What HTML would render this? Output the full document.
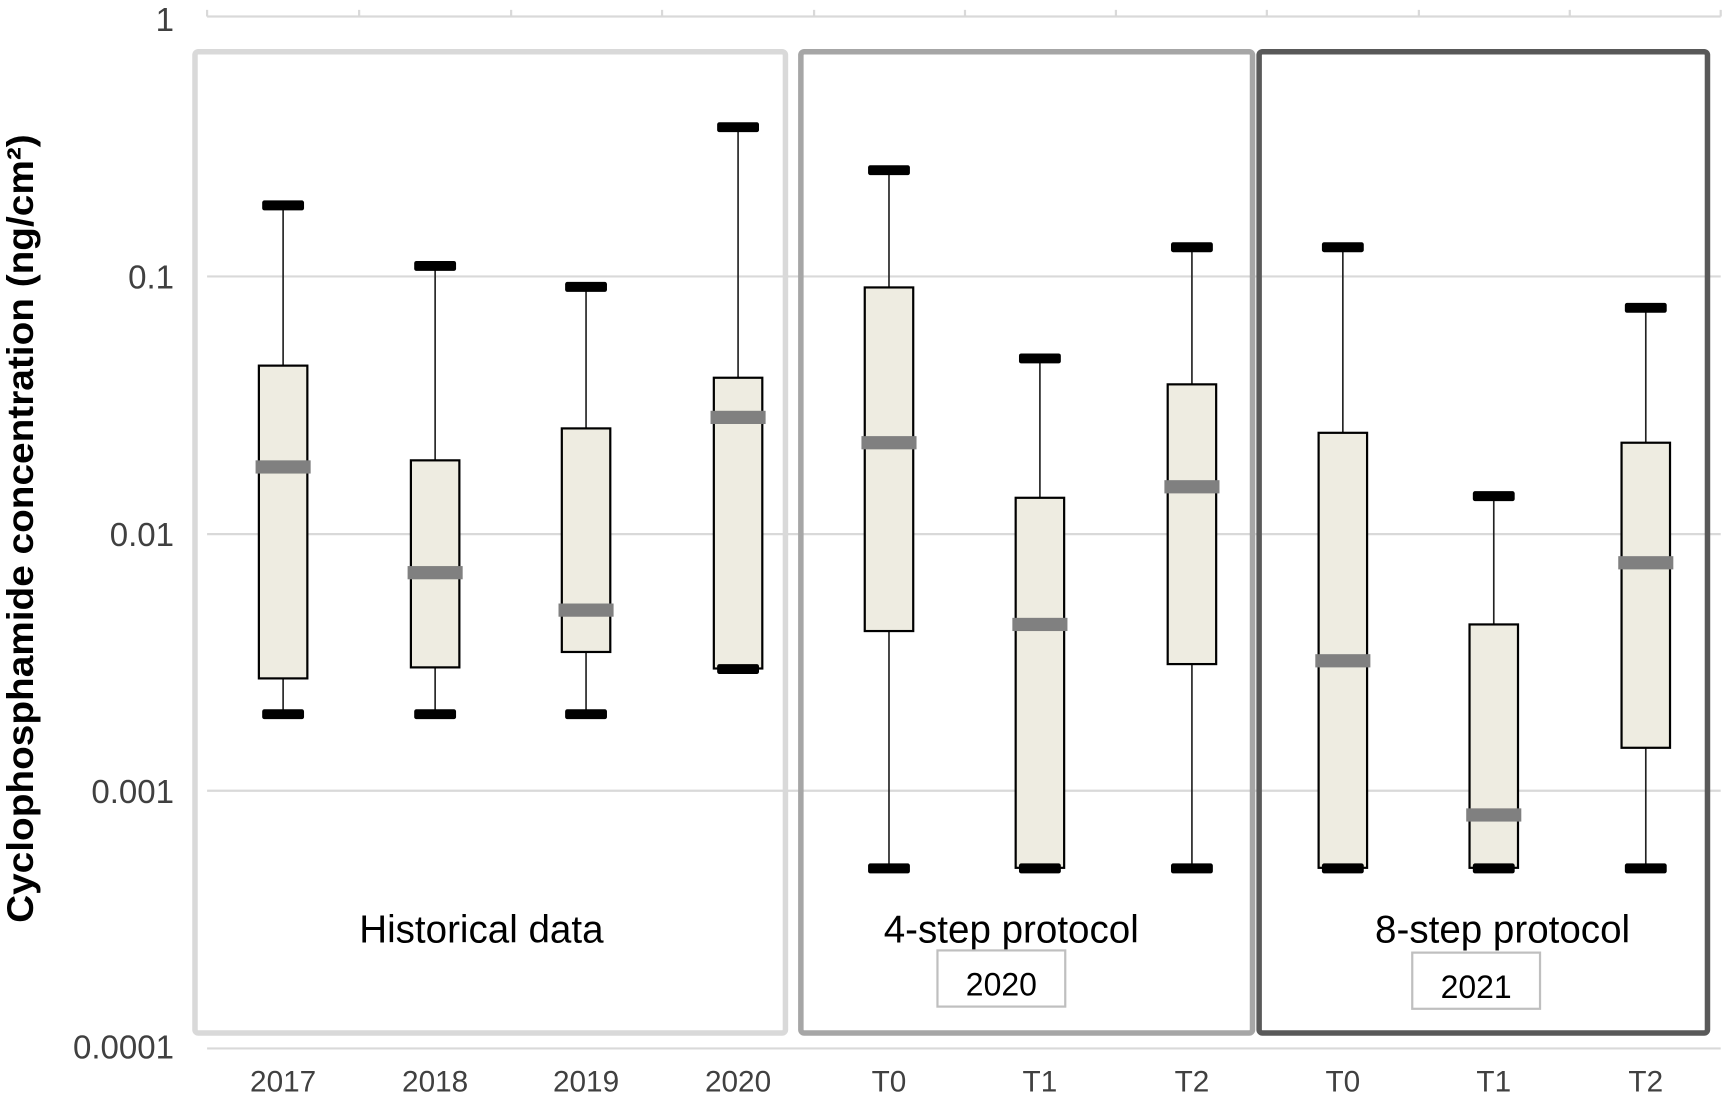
<!DOCTYPE html>
<html><head><meta charset="utf-8"><style>html,body{margin:0;padding:0;background:#fff}svg{display:block}</style></head>
<body>
<svg width="1724" height="1098" viewBox="0 0 1565 997" preserveAspectRatio="none" xmlns="http://www.w3.org/2000/svg" font-family="Liberation Sans, sans-serif">
<g stroke="#d9d9d9" stroke-width="2">
<line x1="188" y1="251" x2="1562" y2="251"/>
<line x1="188" y1="485" x2="1562" y2="485"/>
<line x1="188" y1="718" x2="1562" y2="718"/>
<line x1="188" y1="952" x2="1562" y2="952"/>
<line x1="188" y1="15" x2="1562" y2="15"/>
<path d="M188 9V15M326 9V15M464 9V15M601 9V15M739 9V15M876 9V15M1013 9V15M1150 9V15M1288 9V15M1425 9V15M1562 9V15"/>
</g>
<g fill="#404040" font-size="30" text-anchor="end">
<text x="158" y="28">1</text>
<text x="158" y="262">0.1</text>
<text x="158" y="496">0.01</text>
<text x="158" y="729">0.001</text>
<text x="158" y="961">0.0001</text>
</g>
<g fill="#404040" font-size="27" text-anchor="middle">
<text x="257" y="991">2017</text><text x="395" y="991">2018</text><text x="532" y="991">2019</text><text x="670" y="991">2020</text>
<text x="807" y="991">T0</text><text x="944" y="991">T1</text><text x="1082" y="991">T2</text>
<text x="1219" y="991">T0</text><text x="1356" y="991">T1</text><text x="1494" y="991">T2</text>
</g>
<text transform="translate(30,480) rotate(-90)" text-anchor="middle" font-size="34" font-weight="bold" fill="#000" textLength="716" lengthAdjust="spacingAndGlyphs">Cyclophosphamide concentration (ng/cm²)</text>
<g fill="none" stroke-width="5">
<rect x="177" y="47" width="536" height="891" rx="3" stroke="#d9d9d9"/>
<rect x="727" y="47" width="410" height="891" rx="3" stroke="#a6a6a6"/>
<rect x="1143" y="47" width="407" height="891" rx="3" stroke="#595959"/>
</g>
<g font-size="35" text-anchor="middle" fill="#000">
<text x="437" y="856">Historical data</text>
<text x="918" y="856">4-step protocol</text>
<text x="1364" y="856">8-step protocol</text>
</g>
<rect x="851" y="863" width="116" height="51" fill="#fff" stroke="#bfbfbf" stroke-width="2"/>
<rect x="1282" y="865" width="116" height="51" fill="#fff" stroke="#bfbfbf" stroke-width="2"/>
<text x="909" y="904" font-size="29" text-anchor="middle">2020</text>
<text x="1340" y="906" font-size="29" text-anchor="middle">2021</text>

<g stroke="#222" stroke-width="1.5">
<line x1="257" y1="186" x2="257" y2="648"/>
<line x1="395" y1="241" x2="395" y2="648"/>
<line x1="532" y1="260" x2="532" y2="648"/>
<line x1="670" y1="115" x2="670" y2="607"/>
<line x1="807" y1="154" x2="807" y2="788"/>
<line x1="944" y1="325" x2="944" y2="788"/>
<line x1="1082" y1="224" x2="1082" y2="788"/>
<line x1="1219" y1="224" x2="1219" y2="788"/>
<line x1="1356" y1="450" x2="1356" y2="788"/>
<line x1="1494" y1="279" x2="1494" y2="788"/>
</g>
<g fill="#eeece1" stroke="#000" stroke-width="2">
<rect x="235" y="332" width="44" height="284"/>
<rect x="373" y="418" width="44" height="188"/>
<rect x="510" y="389" width="44" height="203"/>
<rect x="648" y="343" width="44" height="264"/>
<rect x="785" y="261" width="44" height="312"/>
<rect x="922" y="452" width="44" height="336"/>
<rect x="1060" y="349" width="44" height="254"/>
<rect x="1197" y="393" width="44" height="395"/>
<rect x="1334" y="567" width="44" height="221"/>
<rect x="1472" y="402" width="44" height="277"/>
</g>
<g fill="#000">
<rect x="238" y="182" width="38" height="9" rx="2"/><rect x="238" y="644" width="38" height="9" rx="2"/>
<rect x="376" y="237" width="38" height="9" rx="2"/><rect x="376" y="644" width="38" height="9" rx="2"/>
<rect x="513" y="256" width="38" height="9" rx="2"/><rect x="513" y="644" width="38" height="9" rx="2"/>
<rect x="651" y="111" width="38" height="9" rx="2"/><rect x="651" y="603" width="38" height="9" rx="2"/>
<rect x="788" y="150" width="38" height="9" rx="2"/><rect x="788" y="784" width="38" height="9" rx="2"/>
<rect x="925" y="321" width="38" height="9" rx="2"/><rect x="925" y="784" width="38" height="9" rx="2"/>
<rect x="1063" y="220" width="38" height="9" rx="2"/><rect x="1063" y="784" width="38" height="9" rx="2"/>
<rect x="1200" y="220" width="38" height="9" rx="2"/><rect x="1200" y="784" width="38" height="9" rx="2"/>
<rect x="1337" y="446" width="38" height="9" rx="2"/><rect x="1337" y="784" width="38" height="9" rx="2"/>
<rect x="1475" y="275" width="38" height="9" rx="2"/><rect x="1475" y="784" width="38" height="9" rx="2"/>
</g>
<g fill="#808080">
<rect x="232" y="418" width="50" height="12"/>
<rect x="370" y="514" width="50" height="12"/>
<rect x="507" y="548" width="50" height="12"/>
<rect x="645" y="373" width="50" height="12"/>
<rect x="782" y="396" width="50" height="12"/>
<rect x="919" y="561" width="50" height="12"/>
<rect x="1057" y="436" width="50" height="12"/>
<rect x="1194" y="594" width="50" height="12"/>
<rect x="1331" y="734" width="50" height="12"/>
<rect x="1469" y="505" width="50" height="12"/>
</g>
</svg>
</body></html>
